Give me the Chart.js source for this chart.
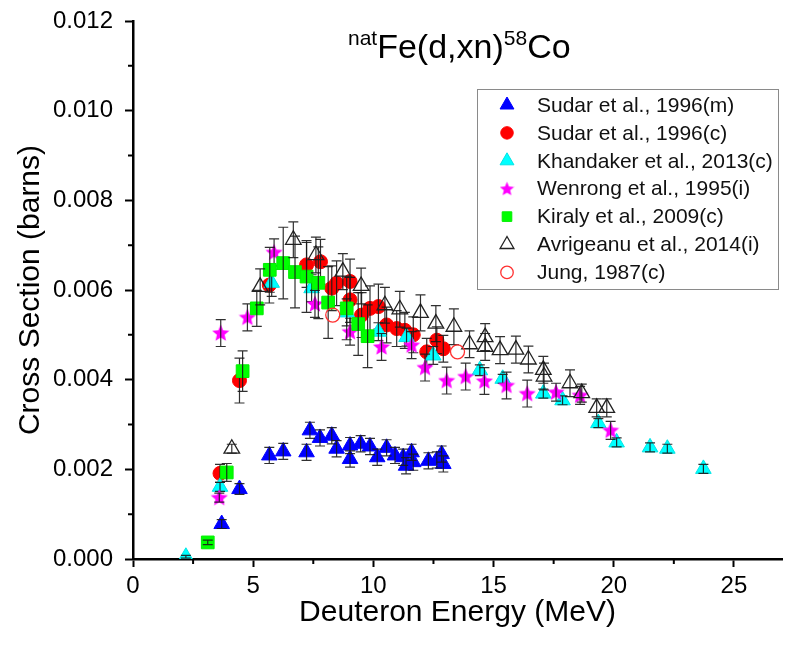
<!DOCTYPE html>
<html>
<head>
<meta charset="utf-8">
<script src="https://cdn.jsdelivr.net/npm/chart.js@4.4.1/dist/chart.umd.min.js"></script>
<style>
  html, body { margin: 0; padding: 0; background: #fff; }
  #wrap { width: 795px; height: 652px; }
</style>
</head>
<body>
<div id="wrap"><canvas id="chart" width="795" height="652"></canvas></div>
<script>
// energy (MeV), cross section (barns), uncertainty (barns) per data set
const sudarMx = [3.69, 4.43, 5.67, 6.25, 7.22, 7.36, 7.78, 8.27, 8.47, 9.03, 9.03, 9.47, 9.86, 10.16, 10.55, 10.90, 11.24, 11.36, 11.59, 11.66, 12.29, 12.64, 12.84, 12.91];
const sudarMy = [0.00078, 0.00156, 0.00231, 0.00240, 0.00238, 0.00287, 0.00270, 0.00275, 0.00246, 0.00253, 0.00223, 0.00257, 0.00251, 0.00227, 0.00248, 0.00231, 0.00227, 0.00208, 0.00238, 0.00216, 0.00219, 0.00221, 0.00234, 0.00212];
const sudarMerr = [0.0001, 0.00012, 0.00018, 0.00018, 0.00018, 0.00018, 0.00018, 0.00018, 0.00018, 0.00018, 0.00018, 0.00018, 0.00018, 0.00018, 0.00018, 0.00018, 0.00018, 0.00018, 0.00018, 0.00018, 0.00018, 0.00018, 0.00018, 0.00018];

const sudarCx = [3.62, 4.43, 5.67, 7.22, 7.80, 8.27, 8.47, 9.03, 9.03, 9.51, 9.86, 10.21, 10.55, 10.97, 11.31, 11.66, 12.22, 12.64, 12.91];
const sudarCy = [0.00191, 0.00398, 0.00611, 0.00656, 0.00663, 0.00604, 0.00615, 0.00619, 0.00578, 0.00544, 0.00559, 0.00563, 0.00522, 0.00514, 0.00510, 0.00500, 0.00462, 0.00488, 0.00469];
const sudarCerr = [0.0002, 0.0005, 0.0004, 0.0005, 0.0005, 0.0005, 0.0005, 0.0005, 0.0005, 0.0005, 0.0005, 0.0005, 0.0004, 0.0004, 0.0004, 0.0004, 0.0003, 0.0003, 0.0003];

const khandakerX = [2.20, 3.62, 5.77, 7.43, 8.89, 10.21, 11.38, 12.49, 14.43, 15.38, 17.07, 17.87, 19.36, 20.12, 21.51, 22.23, 23.73];
const khandakerY = [0.00005, 0.00161, 0.00616, 0.00604, 0.00550, 0.00507, 0.00495, 0.00454, 0.00421, 0.00402, 0.00369, 0.00354, 0.00303, 0.00260, 0.00249, 0.00246, 0.00201];
const khandakerErr = [0.00003, 0.0001, 0.0003, 0.0003, 0.0003, 0.0002, 0.0002, 0.0002, 0.00012, 0.0001, 0.0001, 0.0001, 0.0001, 0.0001, 0.0001, 0.0001, 0.0001];

const wenrongX = [3.59, 3.65, 4.76, 5.87, 7.57, 9.03, 10.34, 11.59, 12.15, 13.05, 13.84, 14.62, 15.54, 16.40, 17.60, 18.60, 19.87];
const wenrongY = [0.00137, 0.00504, 0.00539, 0.00684, 0.00569, 0.00507, 0.00473, 0.00477, 0.00427, 0.00398, 0.00407, 0.00397, 0.00387, 0.00369, 0.00372, 0.00365, 0.00287];
const wenrongErr = [0.0001, 0.0003, 0.0003, 0.0003, 0.0003, 0.0003, 0.0003, 0.0003, 0.0003, 0.0003, 0.0003, 0.0003, 0.0003, 0.0003, 0.0002, 0.0002, 0.0002];

const kiralyX = [3.11, 3.90, 4.56, 5.15, 5.69, 6.25, 6.74, 7.22, 7.71, 8.12, 8.89, 9.37, 9.76];
const kiralyY = [0.00037, 0.00193, 0.00419, 0.00559, 0.00645, 0.00660, 0.00640, 0.00630, 0.00616, 0.00572, 0.00559, 0.00524, 0.00497];
const kiralyErr = [0.00005, 0.0002, 0.00045, 0.0004, 0.0005, 0.0008, 0.0008, 0.0008, 0.0008, 0.0008, 0.0007, 0.0007, 0.0007];

const avrigeanuX = [4.11, 5.29, 6.67, 7.61, 8.73, 9.49, 10.48, 11.10, 11.96, 12.60, 13.35, 14.00, 14.65, 14.65, 15.27, 15.93, 16.45, 17.07, 17.10, 18.18, 18.67, 19.29, 19.71];
const avrigeanuY = [0.00246, 0.00607, 0.00712, 0.00678, 0.00641, 0.00609, 0.00566, 0.00557, 0.00549, 0.00525, 0.00518, 0.00479, 0.00495, 0.00473, 0.00466, 0.00467, 0.00445, 0.00422, 0.00407, 0.00392, 0.00370, 0.00337, 0.00337];
const avrigeanuErr = [0.0001, 0.0004, 0.0004, 0.0004, 0.0004, 0.0004, 0.0004, 0.0004, 0.0004, 0.0004, 0.0004, 0.0003, 0.0003, 0.0003, 0.0003, 0.0003, 0.0003, 0.0003, 0.0003, 0.0003, 0.0002, 0.0002, 0.0002];

const jungX = [8.31, 13.50];
const jungY = [0.00544, 0.00462];

const seriesLabels = [
  'Sudar et al., 1996(m)',
  'Sudar et al., 1996(c)',
  'Khandaker et al., 2013(c)',
  'Wenrong et al., 1995(i)',
  'Kiraly et al., 2009(c)',
  'Avrigeanu et al., 2014(i)',
  'Jung, 1987(c)'
];

const xMajor = [0, 5, 10, 15, 20, 25];
const xMinor = [2.5, 7.5, 12.5, 17.5, 22.5];
const yMajor = [0, 0.002, 0.004, 0.006, 0.008, 0.010, 0.012];
const yMinor = [0.001, 0.003, 0.005, 0.007, 0.009, 0.011];

const FONT = '"Liberation Sans", Arial, Helvetica, sans-serif';

// filled five-point star used as an image point style
function makeStar(size, color) {
  const c = document.createElement('canvas');
  c.width = c.height = size;
  const g = c.getContext('2d');
  const R = size / 2, r = R * 0.45;
  g.beginPath();
  for (let k = 0; k < 10; k++) {
    const rad = k % 2 ? r : R;
    const a = -Math.PI / 2 + k * Math.PI / 5;
    g.lineTo(R + rad * Math.cos(a), R + 0.5 + rad * Math.sin(a));
  }
  g.closePath();
  g.fillStyle = color;
  g.fill();
  return c;
}
const starBig = makeStar(18, '#ff00ff');
const starSmall = makeStar(15, '#ff00ff');

function pts(xs, ys) {
  return xs.map((x, i) => ({ x: x, y: ys[i] }));
}

function set(i, xs, ys, errs, style) {
  return Object.assign({
    label: seriesLabels[i],
    data: pts(xs, ys),
    errors: errs,
    showLine: false,
    order: 10 - i,
    pointBorderWidth: 1
  }, style);
}

const datasets = [
  set(0, sudarMx, sudarMy, sudarMerr, { pointStyle: 'triangle', pointRadius: 9, backgroundColor: '#0000ff', borderColor: '#0000ff' }),
  set(1, sudarCx, sudarCy, sudarCerr, { pointStyle: 'circle', pointRadius: 7, backgroundColor: '#ff0000', borderColor: '#ff0000' }),
  set(2, khandakerX, khandakerY, khandakerErr, { pointStyle: 'triangle', pointRadius: 9, backgroundColor: '#00ffff', borderColor: '#00e5e5' }),
  set(3, wenrongX, wenrongY, wenrongErr, { pointStyle: starBig, pointRadius: 9, backgroundColor: '#ff00ff', borderColor: '#ff00ff' }),
  set(4, kiralyX, kiralyY, kiralyErr, { pointStyle: 'rect', pointRadius: 9, backgroundColor: '#00ff00', borderColor: '#00ee00' }),
  set(5, avrigeanuX, avrigeanuY, avrigeanuErr, { pointStyle: 'triangle', pointRadius: 9, backgroundColor: 'rgba(255,255,255,0)', borderColor: '#222', pointBorderWidth: 1.3 }),
  set(6, jungX, jungY, null, { pointStyle: 'circle', pointRadius: 7, backgroundColor: 'rgba(255,255,255,0)', borderColor: '#ff3030', pointBorderWidth: 1.3 })
];

// vertical uncertainty bars with caps, drawn on top of each data set
const errorBars = {
  id: 'errorBars',
  afterDatasetDraw(chart, args) {
    const ds = chart.data.datasets[args.index];
    if (!ds.errors) return;
    const yScale = chart.scales.y;
    const ctx = chart.ctx;
    ctx.save();
    ctx.strokeStyle = 'rgba(25,25,25,0.9)';
    ctx.lineWidth = 1.2;
    args.meta.data.forEach((p, i) => {
      const e = ds.errors[i];
      if (!e) return;
      const v = ds.data[i].y;
      const top = yScale.getPixelForValue(v + e);
      const bot = yScale.getPixelForValue(v - e);
      ctx.beginPath();
      ctx.moveTo(p.x, top); ctx.lineTo(p.x, bot);
      ctx.moveTo(p.x - 5, top); ctx.lineTo(p.x + 5, top);
      ctx.moveTo(p.x - 5, bot); ctx.lineTo(p.x + 5, bot);
      ctx.stroke();
    });
    ctx.restore();
  }
};

function drawMarker(ctx, ds, x, y, r) {
  ctx.save();
  ctx.fillStyle = ds.backgroundColor;
  ctx.strokeStyle = ds.borderColor;
  ctx.lineWidth = ds.pointBorderWidth;
  const s = ds.pointStyle;
  if (s instanceof HTMLCanvasElement) {
    ctx.drawImage(starSmall, x - starSmall.width / 2, y - starSmall.height / 2);
    ctx.restore();
    return;
  }
  ctx.beginPath();
  if (s === 'triangle') {
    ctx.moveTo(x, y - r);
    ctx.lineTo(x + r * 0.866, y + r * 0.5);
    ctx.lineTo(x - r * 0.866, y + r * 0.5);
    ctx.closePath();
  } else if (s === 'circle') {
    ctx.arc(x, y, r * 0.78, 0, Math.PI * 2);
  } else {
    const h = r * 0.6;
    ctx.rect(x - h, y - h, 2 * h, 2 * h);
  }
  ctx.fill();
  ctx.stroke();
  ctx.restore();
}

// title with superscripts, legend box and minor tick marks
const decorations = {
  id: 'decorations',
  afterDraw(chart) {
    const ctx = chart.ctx;
    const { x, y } = chart.scales;
    ctx.save();

    ctx.strokeStyle = '#000';
    ctx.lineWidth = 2;
    ctx.beginPath();
    yMinor.forEach(v => {
      const py = y.getPixelForValue(v);
      ctx.moveTo(x.left - 5, py); ctx.lineTo(x.left, py);
    });
    xMinor.forEach(v => {
      const px = x.getPixelForValue(v);
      ctx.moveTo(px, y.bottom); ctx.lineTo(px, y.bottom + 5);
    });
    ctx.stroke();

    // title: natFe(d,xn)58Co
    ctx.fillStyle = '#000';
    ctx.textBaseline = 'alphabetic';
    ctx.textAlign = 'left';
    let tx = 348;
    const parts = [['nat', 21, 45], ['Fe(d,xn)', 34, 58], ['58', 21, 45], ['Co', 34, 58]];
    parts.forEach(([t, size, base]) => {
      ctx.font = size + 'px ' + FONT;
      ctx.fillText(t, tx, base);
      tx += ctx.measureText(t).width;
    });

    // legend
    const lx = 477, ly = 89, lw = 301, lh = 200;
    ctx.fillStyle = '#fff';
    ctx.fillRect(lx, ly, lw, lh);
    ctx.strokeStyle = '#8a8a8a';
    ctx.lineWidth = 1;
    ctx.strokeRect(lx + 0.5, ly + 0.5, lw, lh);
    ctx.font = '21px ' + FONT;
    ctx.textBaseline = 'middle';
    chart.data.datasets.forEach((ds, i) => {
      const rowY = 105 + i * 27.9;
      drawMarker(ctx, ds, 507, rowY, 8);
      ctx.fillStyle = '#111';
      ctx.fillText(ds.label, 537, rowY + 1);
    });
    ctx.restore();
  }
};

Chart.defaults.font.family = FONT;
Chart.defaults.color = '#000';

new Chart(document.getElementById('chart'), {
  type: 'scatter',
  data: { datasets: datasets },
  options: {
    responsive: false,
    animation: false,
    devicePixelRatio: 1,
    layout: { padding: { top: 21, right: 13, left: 0, bottom: 0 } },
    plugins: {
      legend: { display: false },
      tooltip: { enabled: false }
    },
    scales: {
      x: {
        type: 'linear',
        min: 0,
        max: 27,
        afterBuildTicks: s => { s.ticks = xMajor.map(v => ({ value: v })); },
        afterFit: s => { s.height = 93; s.paddingLeft = 0; s.paddingRight = 0; },
        grid: { drawOnChartArea: false, drawTicks: true, tickLength: 8, tickWidth: 2, tickColor: '#000' },
        border: { display: true, color: '#000', width: 2.5 },
        ticks: { font: { size: 24 }, color: '#000', padding: 5, maxRotation: 0 },
        title: { display: true, text: 'Deuteron Energy (MeV)', font: { size: 30 }, color: '#000', padding: { top: 0, bottom: 21 } }
      },
      y: {
        type: 'linear',
        min: 0,
        max: 0.012,
        afterBuildTicks: s => { s.ticks = yMajor.map(v => ({ value: v })); },
        afterFit: s => { s.width = 133; s.paddingTop = 0; s.paddingBottom = 0; },
        grid: { drawOnChartArea: false, drawTicks: true, tickLength: 8, tickWidth: 2, tickColor: '#000' },
        border: { display: true, color: '#000', width: 2.5 },
        ticks: { font: { size: 24 }, color: '#000', padding: 12, callback: v => v.toFixed(3) },
        title: { display: true, text: 'Cross Section (barns)', font: { size: 30 }, color: '#000', padding: { top: 13, bottom: 0 } }
      }
    }
  },
  plugins: [errorBars, decorations]
});
</script>
</body>
</html>
